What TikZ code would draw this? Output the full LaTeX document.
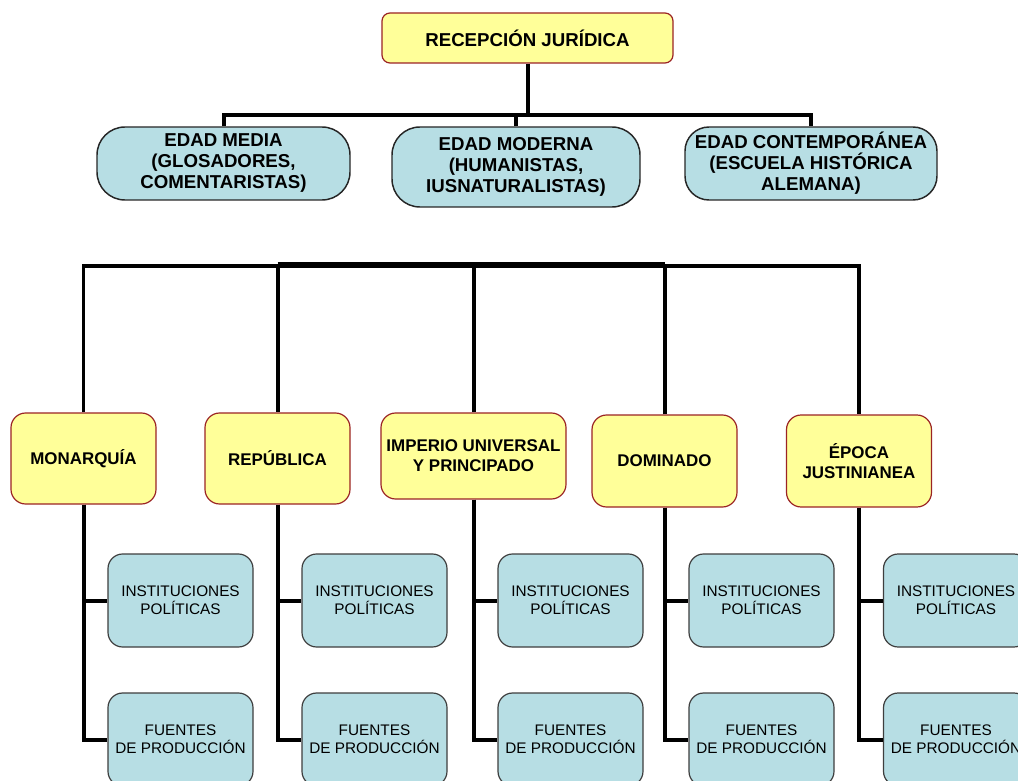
\documentclass[tikz,border=0pt]{standalone}
\usepackage{fontspec}
\setmainfont{Liberation Sans}
\usetikzlibrary{calc}

\definecolor{headyellow}{RGB}{255,255,153}
\definecolor{headred}{RGB}{155,36,36}
\definecolor{eraBlue}{RGB}{183,222,228}
\definecolor{subgray}{RGB}{62,62,62}

\begin{document}
\begin{tikzpicture}[x=0.75pt, y=-0.75pt]

  % ---------- Styling ----------
  \tikzset{
    headbox/.style={draw=headred, fill=headyellow, line width=0.9pt, rounded corners=6pt,
      inner sep=0pt, minimum width=291*0.75pt, minimum height=50*0.75pt,
      font=\fontsize{14}{16}\selectfont\bfseries},
    erabox/.style={draw=black!85, fill=eraBlue, line width=1.1pt, rounded corners=21pt,
      inner sep=0pt, align=center, minimum height=73*0.75pt,
      font=\fontsize{14}{15.75}\selectfont\bfseries},
    periodbox/.style={draw=headred, fill=headyellow, line width=0.9pt, rounded corners=11pt,
      inner sep=0pt, align=center, minimum width=145*0.75pt, minimum height=91*0.75pt,
      font=\fontsize{12.7}{15.2}\selectfont\bfseries},
    subbox/.style={draw=subgray, fill=eraBlue, line width=0.9pt, rounded corners=11pt,
      inner sep=0pt, align=center, minimum width=145*0.75pt, minimum height=93*0.75pt,
      font=\fontsize{11.5}{13.75}\selectfont},
    conn/.style={draw=black, line width=3pt},
    thinconn/.style={draw=black, line width=2.5pt}
  }

  \useasboundingbox (0,0) rectangle (1018,781);

  % ---------- Top level ----------
  \node[headbox] (recepcion) at (527.5,38) {RECEPCIÓN JURÍDICA};

  \node[erabox, minimum width=253*0.75pt] (media) at (223.5,163.5)
    {EDAD MEDIA\\(GLOSADORES,\\COMENTARISTAS)};
  \node[erabox, minimum width=248*0.75pt, minimum height=80*0.75pt] (moderna) at (516,167)
    {EDAD MODERNA\\(HUMANISTAS,\\IUSNATURALISTAS)};
  \node[erabox, minimum width=252*0.75pt, rounded corners=18pt] (contemp) at (811,163.5)
    {EDAD CONTEMPORÁNEA\\(ESCUELA HISTÓRICA\\ALEMANA)};

  \coordinate (busTop) at (527.5,115);
  \draw[conn] (recepcion.south) -- (busTop);
  \draw[conn] (media.north) |- (busTop) -| (contemp.north);
  \draw[conn] (moderna.north) -- (moderna.north |- busTop);

  % ---------- Periods ----------
  \node[periodbox] (monarquia) at (83.5,458.5) {MONARQUÍA};
  \node[periodbox] (republica) at (277.5,458.5) {REPÚBLICA};
  \node[periodbox, minimum width=185*0.75pt, minimum height=86*0.75pt] (imperio) at (473.5,456)
    {IMPERIO UNIVERSAL\\Y PRINCIPADO};
  \node[periodbox, minimum height=92*0.75pt] (dominado) at (664.5,461) {DOMINADO};
  \node[periodbox, minimum height=92*0.75pt] (epoca) at (859,461) {ÉPOCA\\JUSTINIANEA};

  \coordinate (busLow) at (473.5,266);
  \draw[thinconn] (monarquia.north) |- (busLow) -| (epoca.north);
  \draw[conn] (republica.north |- busLow) ++(0,-1.5) -| (republica.north);
  \draw[conn] ($(republica.north |- busLow)+(0,-2)$) -- ($(dominado.north |- busLow)+(0,-2)$);
  \draw[conn] (imperio.north) -- (imperio.north |- busLow);
  \draw[conn] (dominado.north) -- (dominado.north |- busLow);

  % ---------- Sub boxes ----------
  \foreach \p/\cx in {monarquia/83.5, republica/277.5, imperio/473.5, dominado/664.5, epoca/859} {
    \node[subbox] (inst\p) at (\cx+97,600.5) {INSTITUCIONES\\POLÍTICAS};
    \node[subbox] (fuentes\p) at (\cx+97,739.5) {FUENTES\\DE PRODUCCIÓN};
    \draw[conn] (\p.south) |- (inst\p.west);
    \draw[conn] (\p.south) |- (fuentes\p.west);
  }

\end{tikzpicture}
\end{document}
